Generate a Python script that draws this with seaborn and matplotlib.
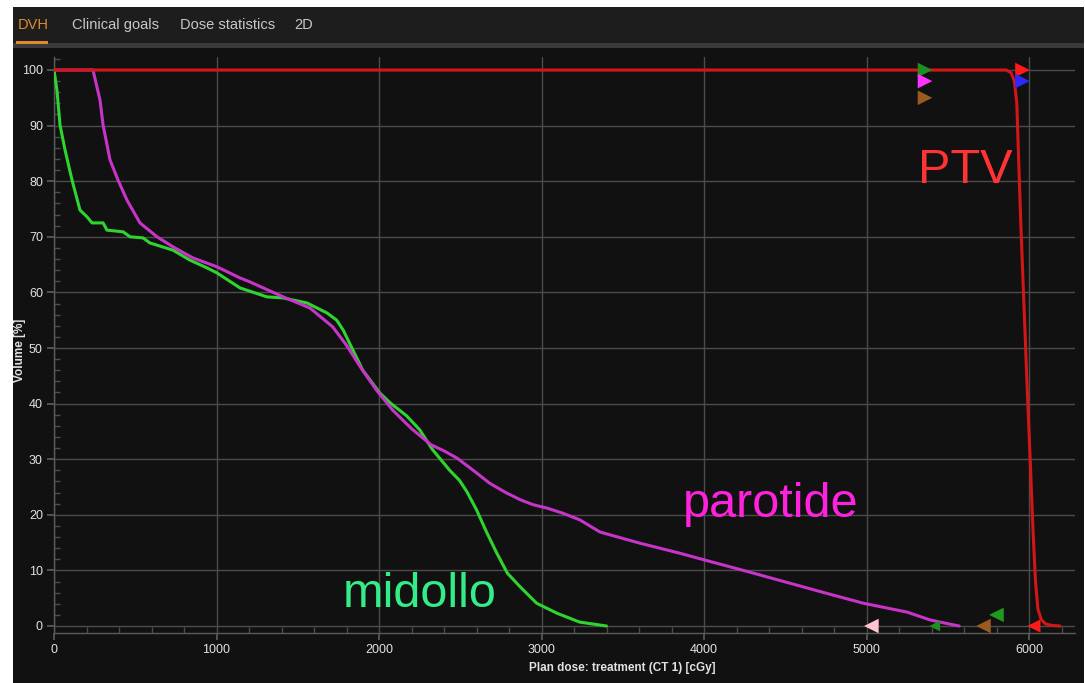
import matplotlib
matplotlib.use("Agg")
import matplotlib.pyplot as plt
from matplotlib.patches import Rectangle
from matplotlib.ticker import MultipleLocator
import seaborn as sns
import pandas as pd

# ---- DVH curves: dose [cGy] vs volume [%] ----
ptv_dose = [0, 5860, 5890, 5910, 5925, 5935, 5950, 5970, 5990, 6010, 6025,
            6040, 6055, 6075, 6100, 6140, 6190]
ptv_vol = [100, 100, 99.5, 98, 94, 85, 72, 57, 42, 28, 17, 8, 3, 1.2, 0.4, 0.1, 0]

parotide_dose = [0, 240, 283, 302, 345, 394, 449, 529, 634, 732, 855, 1003, 1145,
                 1205, 1410, 1575, 1715, 1800, 1885, 1985, 2085, 2200, 2320, 2400,
                 2480, 2580, 2680, 2780, 2870, 2950, 3035, 3130, 3235, 3360, 3605,
                 3850, 4000, 4280, 4590, 4714, 4980, 5250, 5390, 5535, 5570]
parotide_vol = [100, 100, 94.6, 90.1, 83.8, 80.2, 76.6, 72.5, 70.0, 68.2, 66.2, 64.6,
                62.6, 61.9, 59.2, 57.2, 53.8, 50.5, 46.6, 42.4, 38.8, 35.5, 32.6, 31.5,
                30.2, 28.0, 25.7, 24.0, 22.7, 21.8, 21.2, 20.3, 19.1, 16.9, 14.9,
                13.1, 11.9, 9.7, 7.2, 6.2, 4.1, 2.5, 1.1, 0.2, 0]

midollo_dose = [0, 18, 37, 68, 111, 160, 203, 234, 302, 326, 425, 468, 548, 590,
                732, 837, 942, 1003, 1145, 1310, 1410, 1557, 1680, 1740, 1780, 1840,
                1900, 2005, 2070, 2170, 2250, 2330, 2435, 2495, 2540, 2600, 2665,
                2725, 2790, 2870, 2970, 3095, 3235, 3330, 3400]
midollo_vol = [100, 96.4, 90.1, 85.6, 80.2, 74.8, 73.6, 72.5, 72.5, 71.2, 70.9, 70.0,
               69.8, 68.9, 67.6, 65.8, 64.4, 63.5, 60.8, 59.2, 59.0, 58.1, 56.3, 55.0,
               53.2, 49.6, 46.0, 41.9, 40.1, 37.8, 35.3, 31.7, 28.0, 26.2, 24.2, 20.9,
               16.7, 13.1, 9.5, 7.0, 4.1, 2.3, 0.7, 0.3, 0]

# ---- clinical goal markers ----
goal_right_dose = [5360, 5360, 5360, 5960, 5960]
goal_right_vol = [100, 98, 95, 100, 98]
goal_right_color = ["#1f8f1f", "#ff33ff", "#9b5a22", "#ff1a1a", "#2a2aff"]

goal_left_dose = [5030, 5420, 5720, 5800, 6030]
goal_left_vol = [0, 0, 0, 2, 0]
goal_left_color = ["#ffc4d0", "#1f8f1f", "#9b5a22", "#1f9a1f", "#ff1a1a"]
goal_left_size = [110, 60, 110, 110, 90]

tabs = ["DVH", "Clinical goals", "Dose statistics", "2D"]
tab_x = [18, 72, 180, 294]

W, H = 1085, 683
sns.set_theme(style="dark")
ui_font = ["Liberation Sans", "DejaVu Sans"]

fig = plt.figure(figsize=(W / 100, H / 100), dpi=100)
fig.patch.set_facecolor("white")


def px_rect(x0, y0, x1, y1, color, z=-10):
    fig.patches.append(Rectangle((x0 / W, 1 - y1 / H), (x1 - x0) / W, (y1 - y0) / H,
                                 transform=fig.transFigure, facecolor=color,
                                 edgecolor="none", zorder=z))


# application panel, tab bar and separator strip
px_rect(13, 7, 1084, H, "#111111")
px_rect(13, 7, 1084, 43, "#1d1d1d")
px_rect(13, 43, 1084, 48, "#3a3a3a")
px_rect(16, 41, 48, 44, "#e08a2c", z=-5)

for name, x in zip(tabs, tab_x):
    fig.text(x / W, 1 - 25 / H, name, family=ui_font, fontsize=10.5, va="center",
             ha="left", color="#e08a2c" if name == "DVH" else "#c8c8c8")

# axes area in pixel coordinates
L, R, T, B = 54, 1075, 57, 633
ax = fig.add_axes([L / W, 1 - B / H, (R - L) / W, (B - T) / H])
ax.set_facecolor("#111111")
ax.set_zorder(1)

curves = [
    ("PTV", ptv_dose, ptv_vol, "#d41616"),
    ("parotide", parotide_dose, parotide_vol, "#c634c8"),
    ("midollo", midollo_dose, midollo_vol, "#2fd42f"),
]
for name, d, v, c in curves[::-1]:
    df = pd.DataFrame({"dose": d, "volume": v})
    sns.lineplot(data=df, x="dose", y="volume", ax=ax, color=c, lw=2.2,
                 sort=False, estimator=None, zorder=3)

sns.scatterplot(x=goal_right_dose, y=goal_right_vol, hue=goal_right_color,
                palette={c: c for c in goal_right_color}, marker=">", s=110,
                linewidth=0, ax=ax, legend=False, zorder=5)
sns.scatterplot(x=goal_left_dose, y=goal_left_vol, hue=goal_left_color,
                size=goal_left_size, sizes=(60, 110),
                palette={c: c for c in goal_left_color}, marker="<",
                linewidth=0, ax=ax, legend=False, zorder=5)

# structure names
ax.text(5317, 82.0, "PTV", color="#ff3333", fontsize=35, family="Liberation Sans",
        va="center", ha="left")
ax.text(3871, 21.8, "parotide", color="#ff22dd", fontsize=35, family="Liberation Sans",
        va="center", ha="left")
ax.text(1778, 5.6, "midollo", color="#33ee88", fontsize=35, family="Liberation Sans",
        va="center", ha="left")

ax.set_xlim(0, (R - L) / 0.1625)
ax.set_ylim(-(B - 626) / 5.56, (626 - T) / 5.56)
ax.xaxis.set_major_locator(MultipleLocator(1000))
ax.xaxis.set_minor_locator(MultipleLocator(200))
ax.yaxis.set_major_locator(MultipleLocator(10))
ax.yaxis.set_minor_locator(MultipleLocator(2))
ax.grid(True, which="major", color="#4c4c4c", lw=1.0)
ax.grid(False, which="minor")
for side in ["top", "right"]:
    ax.spines[side].set_visible(False)
for side in ["left", "bottom"]:
    ax.spines[side].set_visible(True)
    ax.spines[side].set_color("#5a5a5a")
    ax.spines[side].set_linewidth(1.0)
ax.tick_params(which="major", direction="out", length=5, color="#5a5a5a",
               labelcolor="#e2e2e2", labelsize=9, left=True, bottom=True, pad=3)
ax.tick_params(which="minor", direction="in", length=4, color="#4c4c4c",
               left=True, bottom=True)
for lab in ax.get_xticklabels() + ax.get_yticklabels():
    lab.set_family(ui_font)
ax.tick_params(axis="x", pad=3)

ax.set_xlabel("")
ax.set_ylabel("")
fig.text(622 / W, 1 - 668 / H, "Plan dose: treatment (CT 1) [cGy]", family=ui_font,
         fontsize=8.5, fontweight="bold", color="#e2e2e2", ha="center", va="center")
fig.text(20 / W, 1 - 350 / H, "Volume [%]", family=ui_font, fontsize=8.5,
         fontweight="bold", color="#e2e2e2", ha="center", va="center", rotation=90)

fig.savefig("out.png", dpi=100, facecolor=fig.get_facecolor())
